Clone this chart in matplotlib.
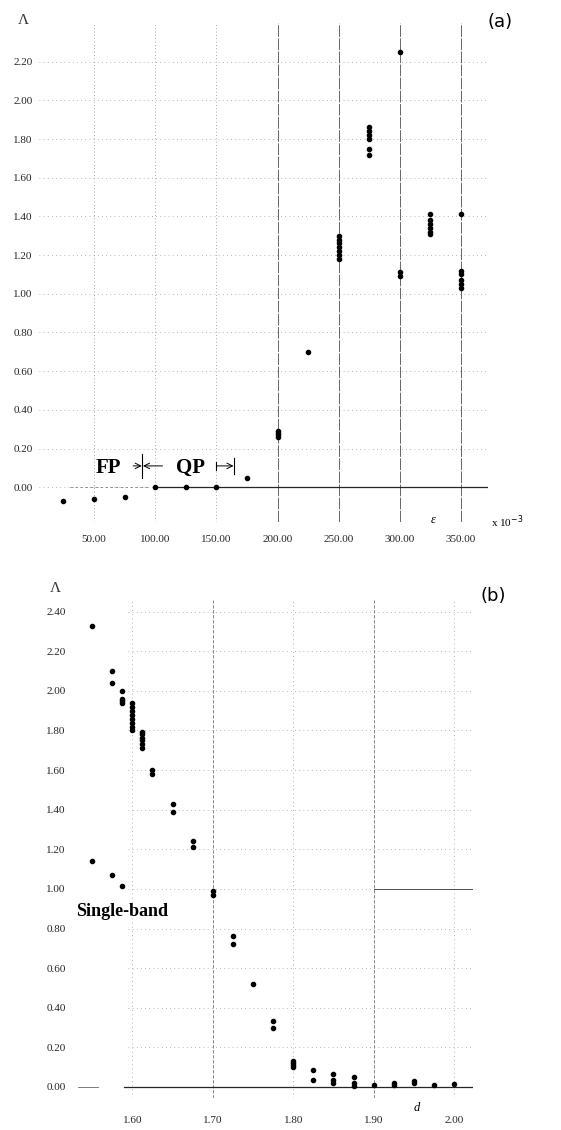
import matplotlib
matplotlib.use("Agg")
import matplotlib.pyplot as plt

# ---------------- data ----------------
# panel (a): Lambda vs epsilon (x 10^-3)
eps_a = [25, 50, 75, 100, 125, 150, 175,
         200, 200, 200, 200,
         225,
         250, 250, 250, 250, 250, 250, 250,
         275, 275, 275, 275, 275, 275,
         300, 300, 300,
         325, 325, 325, 325, 325, 325,
         350, 350, 350, 350, 350, 350]
lam_a = [-0.07, -0.063, -0.05, 0.0, 0.0, 0.0, 0.05,
         0.26, 0.27, 0.28, 0.29,
         0.70,
         1.30, 1.28, 1.26, 1.24, 1.22, 1.20, 1.18,
         1.86, 1.84, 1.82, 1.80, 1.75, 1.72,
         2.25, 1.11, 1.09,
         1.41, 1.38, 1.36, 1.34, 1.32, 1.31,
         1.41, 1.12, 1.10, 1.07, 1.05, 1.03]

# panel (b): Lambda vs d
d_b = [1.55, 1.575, 1.575, 1.5875, 1.5875, 1.5875, 1.5875,
       1.60, 1.60, 1.60, 1.60, 1.60, 1.60, 1.60, 1.60,
       1.6125, 1.6125, 1.6125, 1.6125, 1.6125, 1.6125,
       1.625, 1.625, 1.65, 1.65, 1.675, 1.675,
       1.55, 1.575, 1.5875,
       1.70, 1.70, 1.725, 1.725, 1.75, 1.775, 1.775,
       1.80, 1.80, 1.80, 1.80, 1.825, 1.825,
       1.85, 1.85, 1.85, 1.875, 1.875, 1.875,
       1.90, 1.925, 1.925, 1.95, 1.95, 1.975, 2.00]
lam_b = [2.33, 2.10, 2.04, 2.00, 1.96, 1.95, 1.94,
         1.94, 1.92, 1.90, 1.88, 1.86, 1.84, 1.82, 1.80,
         1.79, 1.78, 1.76, 1.75, 1.73, 1.71,
         1.60, 1.58, 1.43, 1.39, 1.24, 1.21,
         1.14, 1.07, 1.015,
         0.99, 0.97, 0.76, 0.72, 0.52, 0.335, 0.30,
         0.13, 0.12, 0.11, 0.10, 0.087, 0.036,
         0.065, 0.036, 0.019, 0.05, 0.022, 0.005,
         0.01, 0.019, 0.009, 0.03, 0.019, 0.012, 0.014]

xticks_a = [50, 100, 150, 200, 250, 300, 350]
yticks_a = [0.0, 0.2, 0.4, 0.6, 0.8, 1.0, 1.2, 1.4, 1.6, 1.8, 2.0, 2.2]
xticks_b = [1.60, 1.70, 1.80, 1.90, 2.00]
yticks_b = [0.0, 0.2, 0.4, 0.6, 0.8, 1.0, 1.2, 1.4, 1.6, 1.8, 2.0, 2.2, 2.4]

# regime boundaries in panel (a)
fp_qp_boundary = 89
qp_end = 164

# ---------------- style ----------------
SERIF = ["Liberation Serif", "DejaVu Serif"]
plt.rcParams["font.family"] = SERIF

fig = plt.figure(figsize=(5.61, 11.30), dpi=100)
W, H = 561.0, 1130.0


def style_axes(ax, xticks, yticks, xfmt, xpad, ypad):
    for s in ax.spines.values():
        s.set_visible(False)
    ax.set_xticks(xticks)
    ax.set_yticks(yticks)
    ax.set_xticklabels([xfmt % v for v in xticks])
    ax.set_yticklabels(["%.2f" % v for v in yticks])
    ax.tick_params(axis="both", length=0, labelsize=8, colors="0.15")
    ax.tick_params(axis="x", pad=xpad)
    ax.tick_params(axis="y", pad=ypad)


# ---------------- panel (a) ----------------
ax1 = fig.add_axes([39.0 / W, 1 - 522.0 / H, (488.0 - 39.0) / W, (522.0 - 23.0) / H])
ax1.set_xlim(5, 372)
ax1.set_ylim(-0.18, 2.40)
style_axes(ax1, xticks_a, yticks_a, "%.2f", 9, 4.5)

for y in yticks_a:
    ax1.axhline(y, color="0.62", lw=0.6, ls=(0, (1, 4)), zorder=1)
for x in xticks_a:
    if x >= 200:
        ax1.axvline(x, color="0.4", lw=0.7, ls=(0, (12, 1.5)), zorder=1)
    else:
        ax1.axvline(x, color="0.55", lw=0.6, ls=(0, (1, 3)), zorder=1)
ax1.plot([100, 372], [0, 0], color="0.15", lw=0.9, zorder=2)
ax1.plot([30, 95], [0, 0], color="0.5", lw=0.6, ls=(0, (3, 3)), zorder=2)

ax1.plot(eps_a, lam_a, "o", color="black", ms=3, zorder=3)

# FP / QP annotation
ax1.text(62, 0.1, "FP", fontsize=15, fontweight="bold", ha="center", va="center")
ax1.text(129, 0.1, "QP", fontsize=15, fontweight="bold", ha="center", va="center")
ax1.plot([fp_qp_boundary, fp_qp_boundary], [0.05, 0.17], color="black", lw=0.8)
ax1.plot([qp_end, qp_end], [0.07, 0.15], color="black", lw=0.8)
ax1.plot([150, 150], [0.09, 0.13], color="black", lw=0.8)
arrow = dict(arrowstyle="->", lw=0.7, color="black", shrinkA=0, shrinkB=0)
ax1.annotate("", xy=(fp_qp_boundary, 0.11), xytext=(fp_qp_boundary - 7, 0.11), arrowprops=arrow)
ax1.annotate("", xy=(fp_qp_boundary + 1, 0.11), xytext=(fp_qp_boundary + 17, 0.11), arrowprops=arrow)
ax1.annotate("", xy=(qp_end, 0.11), xytext=(150, 0.11), arrowprops=arrow)

fig.text(23 / W, 1 - 20 / H, "Λ", fontsize=11, ha="center", va="center", color="0.2")
fig.text(500 / W, 1 - 22 / H, "(a)", fontsize=13, ha="center", va="center",
         family=["DejaVu Sans"])
fig.text(433 / W, 1 - 520 / H, "ε", fontsize=9, ha="center", va="center", style="italic")
fig.text(507 / W, 1 - 522 / H, "x 10$^{-3}$", fontsize=8, ha="center", va="center")

# ---------------- panel (b) ----------------
ax2 = fig.add_axes([72.0 / W, 1 - 1098.0 / H, (473.0 - 72.0) / W, (1098.0 - 600.0) / H])
ax2.set_xlim(1.525, 2.0235)
ax2.set_ylim(-0.056, 2.459)
style_axes(ax2, xticks_b, yticks_b, "%.2f", 13, 4.5)

for y in yticks_b:
    ax2.axhline(y, xmin=0.14, color="0.62", lw=0.6, ls=(0, (1, 4)), zorder=1)
for x in xticks_b:
    if x in (1.70, 1.90):
        ax2.axvline(x, color="0.45", lw=0.6, ls=(0, (4, 2)), zorder=1)
    else:
        ax2.axvline(x, color="0.6", lw=0.6, ls=(0, (1, 4)), zorder=1)
ax2.plot([1.59, 2.0235], [0, 0], color="0.15", lw=0.9, zorder=2)
ax2.plot([1.533, 1.557], [0, 0], color="0.4", lw=0.6, zorder=2)
ax2.plot([1.90, 2.0235], [1.0, 1.0], color="0.3", lw=0.7, zorder=2)

ax2.plot(d_b, lam_b, "o", color="black", ms=3, zorder=3)

ax2.text(1.587, 0.885, "Single-band", fontsize=13, fontweight="bold",
         ha="center", va="center")

fig.text(55 / W, 1 - 588 / H, "Λ", fontsize=11, ha="center", va="center", color="0.2")
fig.text(493 / W, 1 - 596 / H, "(b)", fontsize=13, ha="center", va="center",
         family=["DejaVu Sans"])
fig.text(417 / W, 1 - 1108 / H, "d", fontsize=9, ha="center", va="center", style="italic")

fig.savefig("out.png", dpi=100)
